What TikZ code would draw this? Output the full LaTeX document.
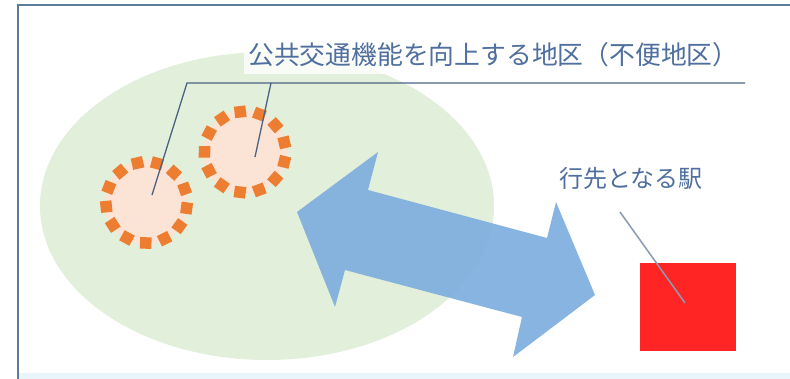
\documentclass[tikz,border=0pt]{standalone}
\usepackage{fontspec}
\newfontfamily\cjk{Noto Sans CJK JP}
\begin{document}
\begin{tikzpicture}[x=1pt,y=-1pt,
  frameline/.style={draw=frameblue,line width=2.3pt},
  zone/.style={fill=zonegreen},
  spot/.style={fill=spotpeach},
  spotdash/.style={fill=spotorange,minimum size=11.5pt,inner sep=0pt},
  leader/.style={draw=leaderblue,line width=1.3pt},
  label/.style={font=\cjk,text=textblue,inner sep=0pt}]
\definecolor{frameblue}{HTML}{5A7D9C}
\definecolor{zonegreen}{HTML}{E2EFDA}
\definecolor{spotpeach}{HTML}{FBE3D6}
\definecolor{spotorange}{HTML}{ED7D31}
\definecolor{leaderblue}{HTML}{4A6383}
\definecolor{textblue}{HTML}{4F6F9F}
\definecolor{arrowblue}{HTML}{7EAFDE}
\definecolor{stationred}{HTML}{FF2525}
\definecolor{bandblue}{HTML}{EAF5FB}
\definecolor{stationlead}{HTML}{8A9BB3}
\useasboundingbox (0,0) rectangle (790,379);
\fill[white] (0,0) rectangle (790,379);
\fill[bandblue] (18,373) rectangle (790,379);
% zone
\path[zone] (267,206) ellipse [x radius=227,y radius=154];
% text background
\fill[white,opacity=0.8] (244,38) rectangle (752,74);
% spots
\coordinate (spotL) at (146.5,202.5);
\coordinate (spotR) at (245,152);
\path[spot] (spotL) circle [radius=42];
\path[spot] (spotR) circle [radius=42];
\foreach \k in {0,...,12}{
  \pgfmathsetmacro{\ang}{\k*360/13+8}
  \node[spotdash,rotate=-\ang] at ([shift={(\ang:40.5)}]spotL) {};
  \node[spotdash,rotate=-\ang-6] at ([shift={(\ang+6:40.5)}]spotR) {};
}
% arrow
\fill[arrowblue,opacity=0.93] (297,212) -- (378,152) -- (368,190) -- (547,238) -- (556,202)
  -- (595,295) -- (513,357) -- (522,317) -- (345,270) -- (335,307) -- cycle;
% station
\node[fill=stationred,minimum width=96pt,minimum height=88pt,inner sep=0pt] (station) at (688,307) {};
% labels
\node[label,font=\cjk\fontsize{25.8}{30}\selectfont,anchor=west] (zonelabel) at (248,55) {公共交通機能を向上する地区（不便地区）};
\node[label,font=\cjk\fontsize{24}{28}\selectfont] (stationlabel) at (631,178) {行先となる駅};
% leaders
\coordinate (ulL) at (187,83);
\coordinate (ulR) at (745,83);
\coordinate (ulM) at (271,83);
\coordinate (spotA) at (152,195);
\coordinate (spotB) at (255,157);
\coordinate (stTop) at (620,212);
\coordinate (stEnd) at (685,303);
\draw[leader] (spotA) -- (ulL) -- (ulR);
\draw[leader] (ulM) -- (spotB);
\draw[draw=stationlead,line width=1.5pt] (stTop) -- (stEnd);
% frame
\draw[frameline] (18,379) -- (18,5) -- (790,5);
\end{tikzpicture}
\end{document}
